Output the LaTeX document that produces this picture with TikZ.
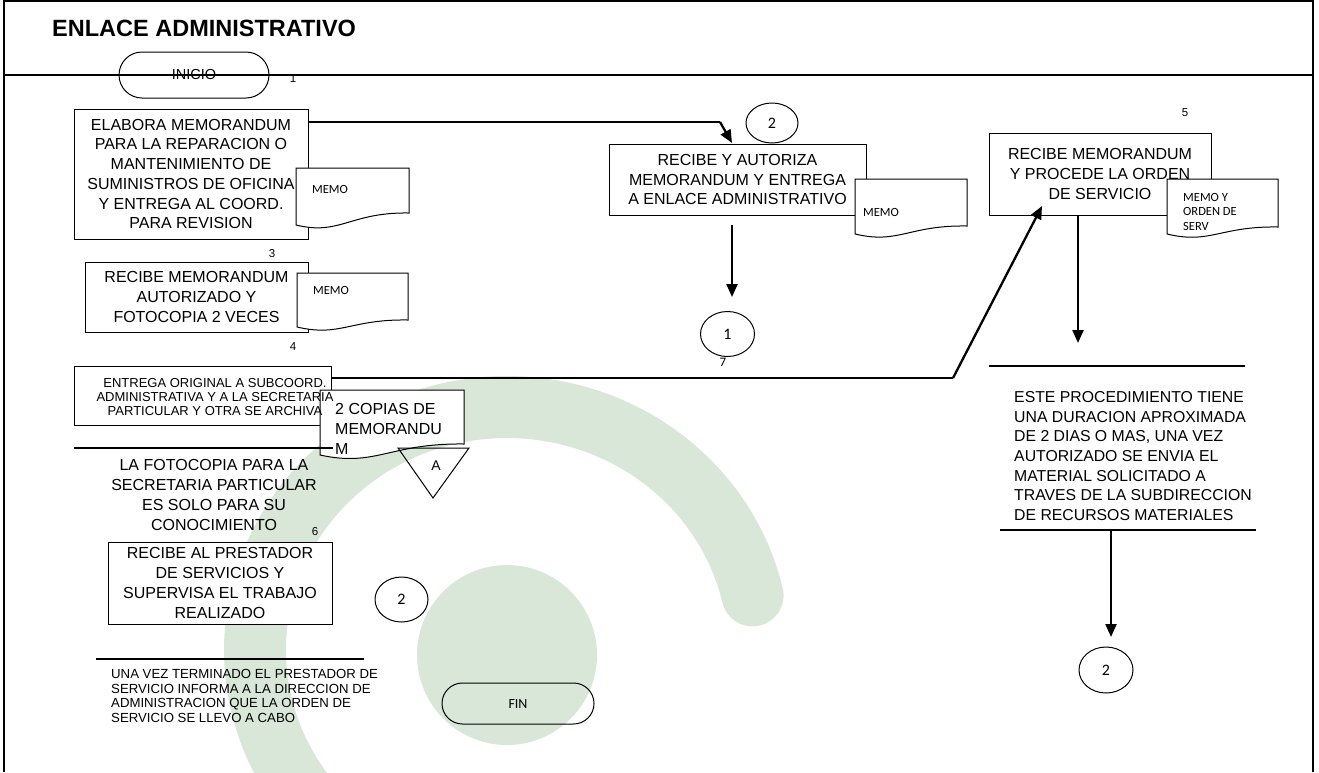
\documentclass[tikz,border=0pt]{standalone}
\usepackage{fontspec}
\setmainfont{Liberation Sans}
\newfontfamily\calib{Carlito}
\usetikzlibrary{shapes.geometric,shapes.misc,arrows.meta,calc}
\definecolor{wm}{RGB}{216,231,215}
\tikzset{
  box/.style={draw, fill=white, line width=1pt, inner sep=0pt, align=center, font=\fontsize{16}{19.7}\selectfont},
  term/.style={draw, rounded rectangle, line width=1pt, inner sep=0pt},
  conn/.style={draw, ellipse, line width=1pt, inner sep=0pt, font=\calib\fontsize{16}{18}\selectfont},
  docsh/.style={draw, fill=white, line width=1pt},
  num/.style={inner sep=0pt, font=\fontsize{11.5}{13}\selectfont},
  note/.style={inner sep=0pt, align=center, font=\fontsize{16}{19.7}\selectfont},
  memo/.style={inner sep=0pt, anchor=west, align=left, font=\calib\fontsize{12.5}{14.5}\selectfont},
  flow/.style={line width=1.1pt},
  heavy/.style={line width=2.3pt, -{Triangle[length=13pt,width=11pt]}},
  bar/.style={line width=1.1pt},
}
\newcommand\docshp[5]{%
  \path[docsh] (#1,#2) -- ({#1+#3},#2) -- ({#1+#3},{#2+#5})
    .. controls ({#1+0.48*#3},{#2+#5-1}) and ({#1+0.39*#3},{#2+1.19*#4}) .. (#1,{#2+#4}) -- cycle;}
\begin{document}
\begin{tikzpicture}[x=1pt,y=-1pt]
\useasboundingbox (0,0) rectangle (1319,772);
% watermark
\begin{scope}
  \clip (4,1) rectangle (1313,772);
  \draw[wm, line width=62pt, line cap=round] plot[domain=13:235, samples=120, smooth] ({507+252*cos(\x)},{650-243*sin(\x)});
  \fill[wm] (507,655) circle[radius=90pt];
\end{scope}
% frame
\draw[line width=1.2pt] (4,772) -- (4,1) -- (1313,1) -- (1313,772);
\node[anchor=base west, inner sep=0pt, font=\bfseries\fontsize{23.5}{28}\selectfont] (title) at (52,36) {ENLACE ADMINISTRATIVO};
% inicio
\node[term, minimum width=150pt, minimum height=46pt, font=\fontsize{14.5}{16}\selectfont] (inicio) at (194,75) {INICIO};
\draw[bar] (4,75) -- (1313,75);
\node[num] (n1) at (293,79) {1};
% box 1
\node[box, minimum width=234pt, minimum height=130pt] (b1) at (191,174) {ELABORA MEMORANDUM\\PARA LA REPARACION O\\MANTENIMIENTO DE\\SUMINISTROS DE OFICINA\\Y ENTREGA AL COORD.\\PARA REVISION};
\docshp{296}{168}{113}{57}{45}
\node[memo] (m1) at (312,189) {MEMO};
% box 2
\node[box, minimum width=257pt, minimum height=71pt] (b2) at (737.5,179.5) {RECIBE Y AUTORIZA\\MEMORANDUM Y ENTREGA\\A ENLACE ADMINISTRATIVO};
\docshp{855}{179}{112}{55}{47}
\node[memo] (m2) at (863,212) {MEMO};
\node[conn, minimum width=52pt, minimum height=40pt] (c2a) at (772,123) {2};
% box 3
\node[num] (n3) at (272,254) {3};
\node[box, minimum width=223pt, minimum height=70pt] (b3) at (196.5,297) {RECIBE MEMORANDUM\\AUTORIZADO Y\\FOTOCOPIA 2 VECES};
\docshp{297}{273}{111}{54}{47}
\node[memo] (m3) at (313,290) {MEMO};
% box 4
\node[num] (n4) at (293,347) {4};
\node[box, minimum width=257pt, minimum height=59pt] (b4) at (202.5,395.5) {};
\docshp{320}{390}{144}{65}{54}
\node[inner sep=0pt, align=center, font=\fontsize{13}{14}\selectfont] (b4t) at (215,397) {ENTREGA ORIGINAL A SUBCOORD.\\ADMINISTRATIVA Y A LA SECRETARIA\\PARTICULAR Y OTRA SE ARCHIVA};
\node[inner sep=0pt, anchor=west, align=left, font=\fontsize{16}{20}\selectfont] (dct) at (335,429) {2 COPIAS DE\\MEMORANDU\\M};
\draw[bar] (74,448) -- (333,448);
\draw[line width=1pt] (398,448) -- (469,448) -- (433,498) -- cycle;
\node[inner sep=0pt, font=\fontsize{14}{16}\selectfont] (ta) at (436,466) {A};
% note
\node[note] (nf) at (214,495) {LA FOTOCOPIA PARA LA\\SECRETARIA PARTICULAR\\ES SOLO PARA SU\\CONOCIMIENTO};
\node[num] (n6) at (315,532) {6};
\node[box, minimum width=224pt, minimum height=82pt] (b6) at (220,583) {RECIBE AL PRESTADOR\\DE SERVICIOS Y\\SUPERVISA EL TRABAJO\\REALIZADO};
\node[conn, minimum width=53pt, minimum height=45pt] (c2b) at (401.5,599.5) {2};
\draw[bar] (96,659) -- (364,659);
\node[inner sep=0pt, anchor=west, align=left, font=\fontsize{13.2}{14.6}\selectfont] (nu) at (111,696) {UNA VEZ TERMINADO EL PRESTADOR DE\\SERVICIO INFORMA A LA DIRECCION DE\\ADMINISTRACION QUE LA ORDEN DE\\SERVICIO SE LLEVO A CABO};
\node[term, minimum width=152pt, minimum height=41pt, font=\calib\fontsize{14}{16}\selectfont] (fin) at (518,703.5) {FIN};
% center column
\node[conn, minimum width=54pt, minimum height=45pt] (c1) at (727.5,334) {1};
\node[inner sep=0pt, font=\calib\fontsize{13}{15}\selectfont] (n7) at (723,362) {7};
% right
\node[num] (n5) at (1185,113) {5};
\node[box, minimum width=222pt, minimum height=82pt] (b5) at (1100,174) {RECIBE MEMORANDUM\\Y PROCEDE LA ORDEN\\DE SERVICIO};
\docshp{1167}{179}{111}{55}{48}
\node[memo] (m5) at (1183,211.5) {MEMO Y\\ORDEN DE\\SERV};
\draw[bar] (989,366) -- (1245,366);
\node[inner sep=0pt, anchor=west, align=left, font=\fontsize{15.8}{19.7}\selectfont] (ne) at (1014,456) {ESTE PROCEDIMIENTO TIENE\\UNA DURACION APROXIMADA\\DE 2 DIAS O MAS, UNA VEZ\\AUTORIZADO SE ENVIA EL\\MATERIAL SOLICITADO A\\TRAVES DE LA SUBDIRECCION\\DE RECURSOS MATERIALES};
\draw[bar] (1000,530) -- (1256,530);
\node[conn, minimum width=54pt, minimum height=46pt] (c2c) at (1106,670) {2};
% connectors
\coordinate (k1) at (720,122);
\coordinate (k2) at (732,143);
\draw[flow] (b1.east |- k1) -- (k1);
\draw[heavy] (k1) -- (k2);
\coordinate (k3) at (732,225);
\coordinate (k4) at (732,297);
\draw[heavy] (k3) -- (k4);
\coordinate (k5) at (953,378);
\coordinate (k6) at (1042,206);
\draw[flow] (b4.east |- k5) -- (k5);
\draw[heavy] (k5) -- (k6);
\coordinate (k7) at (1078,215);
\coordinate (k8) at (1078,343);
\draw[heavy] (k7) -- (k8);
\coordinate (k9) at (1111,530);
\coordinate (k10) at (1111,637);
\draw[heavy] (k9) -- (k10);
\end{tikzpicture}
\end{document}
